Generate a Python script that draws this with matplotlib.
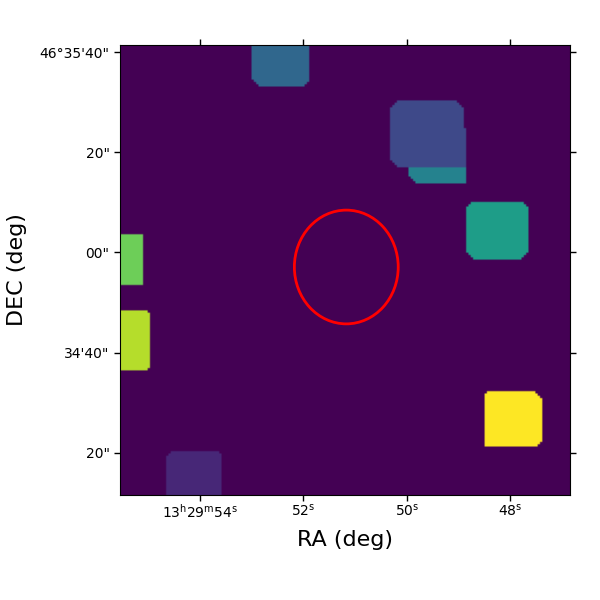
import numpy as np
import matplotlib
matplotlib.use("Agg")
import matplotlib.pyplot as plt
from matplotlib.patches import Ellipse

# Segmentation regions on a 195x195 cell map: col0, col1, row0, row1 (row 0 at top)
labels = [3, 4, 2, 2, 5, 7, 8, 1, 9]
col0 = [57, 125, 117, 149, 150, 0, 0, 20, 158]
col1 = [82, 150, 149, 150, 177, 10, 13, 44, 183]
row0 = [0, 53, 24, 36, 68, 82, 115, 176, 150]
row1 = [18, 60, 53, 53, 93, 104, 141, 195, 174]
# Corner cuts in cells: top-left, top-right, bottom-right, bottom-left
cut_tl = [0, 0, 3, 0, 2, 0, 0, 2, 1]
cut_tr = [0, 0, 3, 0, 2, 0, 1, 1, 3]
cut_br = [2, 0, 0, 0, 3, 0, 1, 0, 2]
cut_bl = [3, 3, 3, 0, 3, 0, 0, 0, 0]

grid_size = 195
ra_left, ra_right = 55.55, 46.84
dec_bottom, dec_top = 11.6, 101.4

ra_ticks = [54, 52, 50, 48]
ra_labels = ["13$^{\\mathrm{h}}$29$^{\\mathrm{m}}$54$^{\\mathrm{s}}$",
             "52$^{\\mathrm{s}}$", "50$^{\\mathrm{s}}$", "48$^{\\mathrm{s}}$"]
dec_ticks = [100, 80, 60, 40, 20]
dec_labels = ["46°35'40\"", "20\"", "00\"", "34'40\"", "20\""]

ellipse_ra, ellipse_dec = 51.17, 57.1
ellipse_w, ellipse_h = 2.01, 22.7

seg = np.zeros((grid_size, grid_size))
for i in range(len(labels)):
    for r in range(row0[i], row1[i]):
        a, b = col0[i], col1[i]
        from_top = r - row0[i]
        from_bot = row1[i] - 1 - r
        a += max(cut_tl[i] - from_top, 0, cut_bl[i] - from_bot)
        b -= max(cut_tr[i] - from_top, 0, cut_br[i] - from_bot)
        seg[r, a:b] = labels[i]

fig = plt.figure(figsize=(6, 6), dpi=100)
ax = fig.add_axes([0.2, 0.175, 0.75, 0.75])
ax.imshow(seg, cmap="viridis", vmin=0, vmax=9, aspect="auto", origin="upper",
          extent=[ra_left, ra_right, dec_bottom, dec_top])
ax.add_patch(Ellipse((ellipse_ra, ellipse_dec), ellipse_w, ellipse_h,
                     fill=False, edgecolor="red", linewidth=2))
ax.set_xlim(ra_left, ra_right)
ax.set_ylim(dec_bottom, dec_top)
ax.set_xticks(ra_ticks, ra_labels)
ax.set_yticks(dec_ticks, dec_labels)
ax.tick_params(top=True, right=True, labelsize=10, length=4, width=1)
ax.tick_params(axis="x", pad=1.5)
ax.set_xlabel("RA (deg)", fontsize=16, labelpad=7)
ax.set_ylabel("DEC (deg)", fontsize=16, labelpad=9)
fig.savefig("out.png", dpi=100)
